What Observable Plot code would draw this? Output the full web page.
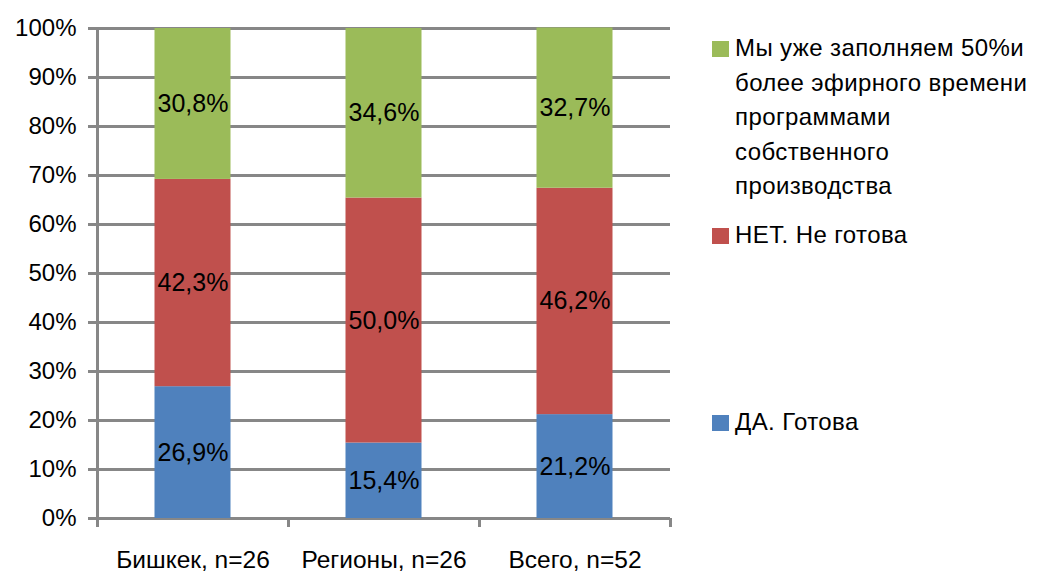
<!DOCTYPE html>
<html>
<head>
<meta charset="utf-8">
<script src="https://cdn.jsdelivr.net/npm/d3@7"></script>
<script src="https://cdn.jsdelivr.net/npm/@observablehq/plot@0.6"></script>
<style>
  html, body { margin: 0; padding: 0; background: #fff; }
  body { width: 1041px; height: 572px; position: relative; overflow: hidden; font-family: "Liberation Sans", Arial, sans-serif; }
  #chart { position: absolute; left: 0; top: 0; }
  .leg { position: absolute; left: 712px; font-size: 24px; line-height: 34.5px; color: #000; letter-spacing: 0.4px; white-space: nowrap; }
  .leg .sw { position: absolute; left: 0; width: 17px; height: 16px; }
  .leg .tx { position: absolute; left: 23px; top: 0; }
</style>
</head>
<body>
<div id="chart"></div>
<div id="legend"></div>
<script>
const categories = ["Бишкек, n=26", "Регионы, n=26", "Всего, n=52"];
const series = [
  "ДА. Готова",
  "НЕТ. Не готова",
  "Мы уже заполняем 50%и более эфирного времени программами собственного производства"
];
const legendLines = [
  ["ДА. Готова"],
  ["НЕТ. Не готова"],
  ["Мы уже заполняем 50%и", "более эфирного времени", "программами", "собственного", "производства"]
];
const valuesDa = [26.9, 15.4, 21.2];
const valuesNet = [42.3, 50.0, 46.2];
const valuesMy = [30.8, 34.6, 32.7];
const colors = ["#4f81bd", "#c0504d", "#9bbb59"];
const yTicks = [0, 10, 20, 30, 40, 50, 60, 70, 80, 90, 100];

const seriesValues = [valuesDa, valuesNet, valuesMy];
const rows = [];
series.forEach((s, si) => {
  categories.forEach((c, ci) => rows.push({cat: c, series: s, value: seriesValues[si][ci]}));
});

const W = 690, H = 572, ML = 97, MR = 20, MT = 28, MB = 54;
const bw = (W - ML - MR) / categories.length;
const grid = "#878787";
const fmt = v => v.toFixed(1).replace(".", ",") + "%";

const plot = Plot.plot({
  width: W, height: H,
  marginLeft: ML, marginRight: MR, marginTop: MT, marginBottom: MB,
  style: {fontFamily: "'Liberation Sans', Arial, sans-serif", color: "#000", background: "#fff"},
  x: {domain: categories, padding: 0, axis: null, label: null},
  y: {domain: [0, 100], axis: null, label: null},
  color: {domain: series, range: colors},
  marks: [
    Plot.ruleY(yTicks, {stroke: grid, strokeWidth: 3}),
    Plot.barY(rows, Plot.stackY({x: "cat", y: "value", fill: "series", insetLeft: 57.5, insetRight: 57.5})),
    Plot.text(rows, Plot.stackY({x: "cat", y: "value", text: d => fmt(d.value), fontSize: 25, fill: "#000"})),
    Plot.ruleX([categories[0]], {dx: -bw / 2, stroke: grid, strokeWidth: 3, insetBottom: -9}),
    Plot.axisY({ticks: yTicks, label: null, tickFormat: d => d + "%", tickSize: 9, tickPadding: 12, fontSize: 24, stroke: grid, strokeWidth: 3, color: "#000"}),
    Plot.axisX({ticks: categories, label: null, tickFormat: null, tickSize: 9, dx: -bw / 2, stroke: grid, strokeWidth: 3}),
    Plot.axisX({ticks: [categories[categories.length - 1]], label: null, tickFormat: null, tickSize: 9, dx: bw / 2, stroke: grid, strokeWidth: 3}),
    Plot.axisX({ticks: categories, label: null, tickSize: 0, tickPadding: 32, fontSize: 24.5})
  ]
});
document.getElementById("chart").appendChild(plot);

// legend (HTML, to the right of the plot)
const legendTops = [405, 218, 31];
const leg = document.getElementById("legend");
legendLines.forEach((lines, i) => {
  const div = document.createElement("div");
  div.className = "leg";
  div.style.top = legendTops[i] + "px";
  const sw = document.createElement("div");
  sw.className = "sw";
  sw.style.background = colors[i];
  sw.style.top = "10px";
  div.appendChild(sw);
  const tx = document.createElement("div");
  tx.className = "tx";
  tx.innerHTML = lines.map(l => l.replace(/&/g, "&amp;").replace(/</g, "&lt;")).join("<br>");
  div.appendChild(tx);
  leg.appendChild(div);
});
</script>
</body>
</html>
